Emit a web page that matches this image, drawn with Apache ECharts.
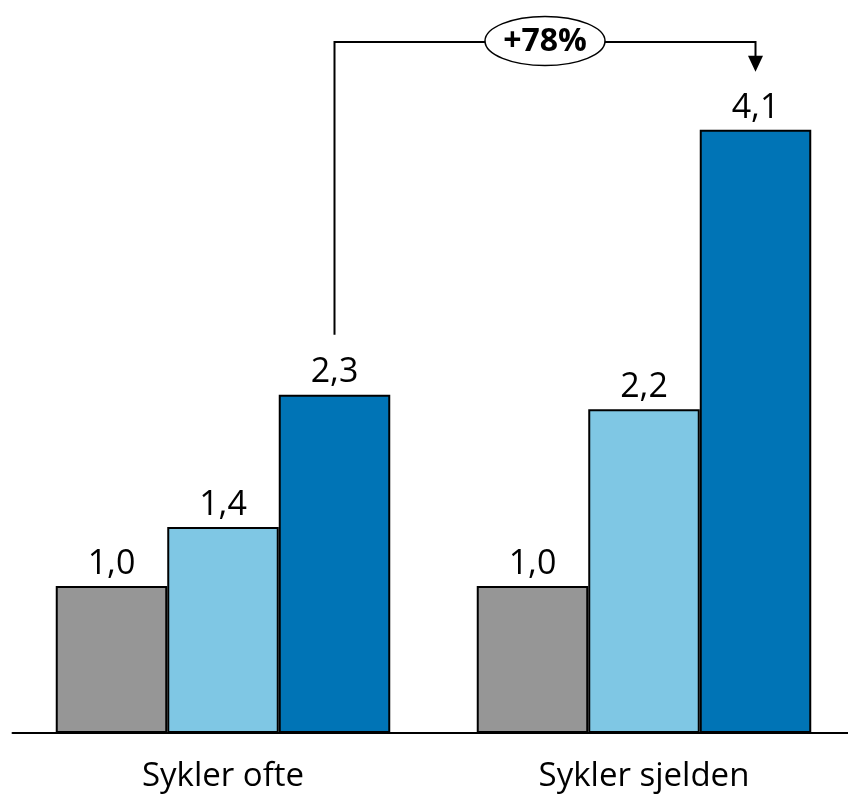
<!DOCTYPE html>
<html>
<head>
<meta charset="utf-8">
<script src="https://cdn.jsdelivr.net/npm/echarts@6/dist/echarts.min.js"></script>
<style>
  html, body { margin: 0; padding: 0; background: #fff; }
  #chart { width: 848px; height: 795px; }
</style>
</head>
<body>
<div id="chart"></div>
<script>
// Categories and series values
const categories = ['Sykler ofte', 'Sykler sjelden'];
const seriesA = [1.0, 1.0];   // grey
const seriesB = [1.4, 2.2];   // light blue
const seriesC = [2.3, 4.1];   // dark blue
const changeLabel = '+78%';

const colors = ['#969696', '#7FC7E4', '#0074B6'];
const BAR_W = 111.5;
const FONT = '"Open Sans", "Liberation Sans", sans-serif';

const fmt = v => v.toFixed(1).replace('.', ',');

function barSeries(data, color) {
  return {
    type: 'bar',
    data: data,
    barWidth: BAR_W,
    barGap: '0%',
    itemStyle: { color: color, borderColor: '#000', borderWidth: 2 },
    label: {
      show: true,
      position: 'top',
      distance: 5,
      formatter: p => fmt(p.value),
      color: '#000',
      fontSize: 34,
      fontFamily: FONT
    },
    silent: true
  };
}

const chart = echarts.init(document.getElementById('chart'), null, { renderer: 'canvas' });

chart.setOption({
  animation: false,
  backgroundColor: '#fff',
  grid: {
    left: 12.5, width: 842, top: 71, bottom: 62,
    containLabel: false, outerBoundsMode: 'none'
  },
  xAxis: {
    type: 'category',
    data: categories,
    axisLine: { lineStyle: { color: '#000', width: 2 } },
    axisTick: { show: false },
    axisLabel: { color: '#000', fontSize: 33, fontFamily: FONT, margin: 27 }
  },
  yAxis: {
    type: 'value',
    min: 0,
    max: 4.5,
    show: false,
    splitLine: { show: false }
  },
  series: [
    barSeries(seriesA, colors[0]),
    barSeries(seriesB, colors[1]),
    barSeries(seriesC, colors[2])
  ]
});

// Bracket with arrow connecting the two dark bars
function drawBracket() {
  const p0 = chart.convertToPixel({ xAxisIndex: 0, yAxisIndex: 0 }, [0, seriesC[0]]);
  const p1 = chart.convertToPixel({ xAxisIndex: 0, yAxisIndex: 0 }, [1, seriesC[1]]);
  const x0 = p0[0] + BAR_W;
  const x1 = p1[0] + BAR_W;
  const yStart = p0[1] - 60;
  const yTop = 42;
  const yTip = p1[1] - 58;
  const cx = (x0 + x1) / 2;

  chart.setOption({
    graphic: [
      {
        type: 'polyline',
        shape: { points: [[x0, yStart], [x0, yTop], [x1, yTop], [x1, yTip - 12]] },
        style: { stroke: '#000', lineWidth: 2, fill: null },
        silent: true
      },
      {
        type: 'polygon',
        shape: { points: [[x1 - 7.5, yTip - 16], [x1 + 7.5, yTip - 16], [x1, yTip]] },
        style: { fill: '#000' },
        silent: true
      },
      {
        type: 'ellipse',
        shape: { cx: cx, cy: yTop - 1, rx: 60, ry: 24.5 },
        style: { fill: '#fff', stroke: '#000', lineWidth: 1.5 },
        silent: true
      },
      {
        type: 'text',
        x: cx,
        y: yTop,
        style: {
          text: changeLabel,
          fill: '#000',
          font: 'bold 32px ' + FONT,
          align: 'center',
          verticalAlign: 'middle'
        },
        silent: true
      }
    ]
  });
}
drawBracket();
</script>
</body>
</html>
